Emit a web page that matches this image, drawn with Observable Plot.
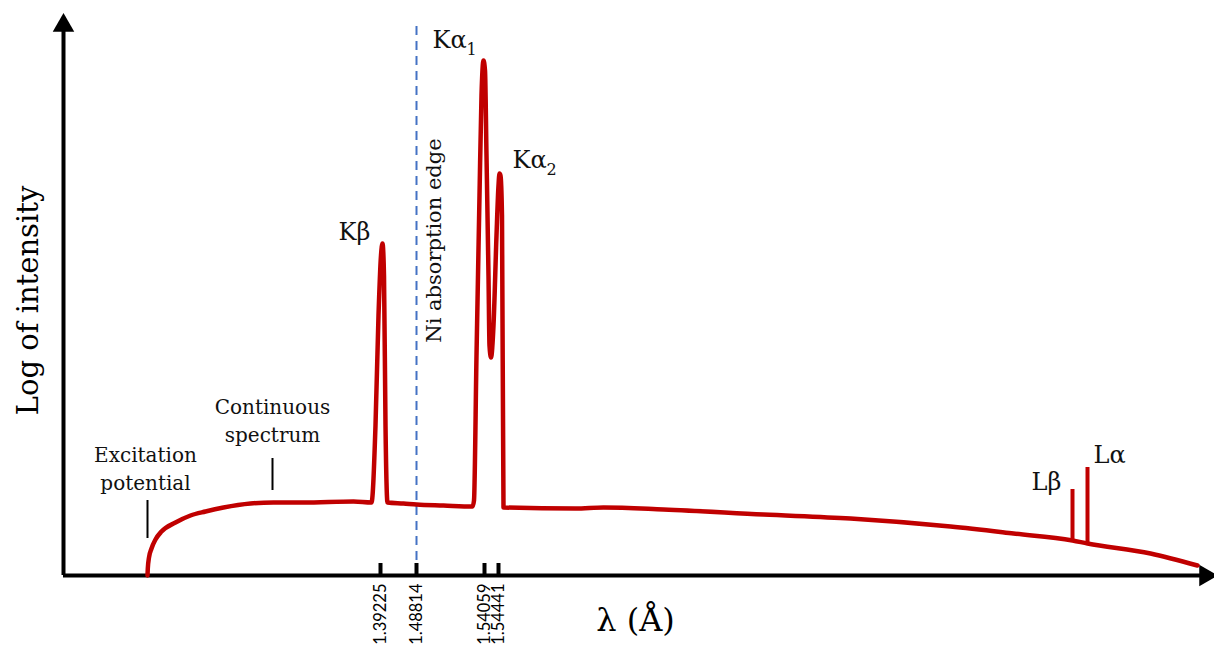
<!DOCTYPE html>
<html>
<head>
<meta charset="utf-8">
<script src="https://cdn.jsdelivr.net/npm/d3@7"></script>
<script src="https://cdn.jsdelivr.net/npm/@observablehq/plot@0.6"></script>
<style>
  html, body { margin: 0; padding: 0; background: #fff; }
  #chart svg { display: block; }
</style>
</head>
<body>
<div id="chart"></div>
<script>
// Schematic x position (arbitrary units) and relative log intensity of the spectrum curve
const curveX = [84, 84.3, 85.5, 88, 92, 98, 112, 127, 142, 160, 187, 210, 240, 290, 308,
  312, 315, 317.5, 319, 320.5, 322, 324, 340, 353, 380, 409,
  410.5, 413, 416, 418, 420, 421.5, 423, 425, 426, 427.5, 430, 433, 435, 436, 437, 438.5, 440,
  512, 540, 600, 700, 787, 887, 950, 1009, 1024, 1087, 1134];
const curveY = [0, 7, 18, 27, 36, 44, 53, 60, 64, 68, 72, 73, 73, 74, 73,
  150, 260, 320, 332, 300, 150, 73, 72, 71, 70, 69,
  75, 220, 380, 480, 515, 505, 420, 300, 230, 218, 250, 340, 390, 402, 400, 360, 68,
  67, 68, 66, 61, 57, 49, 42, 35, 32, 22, 10];

// L lines (vertical spikes on the continuum)
const lineX = [1009, 1024];
const lineBase = [35, 32];
const lineTop = [86, 108];

// Characteristic wavelengths shown as ticks (Å)
const tickLabels = ["1.39225", "1.48814", "1.54059", "1.54441"];
const tickX = [317, 353, 421, 435];
const absorptionEdgeX = 353;

// Annotations
const peakNames = ["Kβ", "Kα", "Kα", "Lβ", "Lα"];
const peakSubs = ["", "1", "2", "", ""];
const peakLabelX = [275, 369, 449, 968, 1030];
const peakLabelY = [343, 535, 415, 93, 120];

const noteLines = ["Excitation", "potential", "Continuous", "spectrum"];
const noteX = [82, 82, 209, 209];
const noteY = [120, 92, 168, 140];
const pointerX = [84, 209];
const pointerY1 = [37, 85];
const pointerY2 = [75, 117];

const serif = "DejaVu Serif";
const red = "#c00000";

const chart = Plot.plot({
  width: 1214,
  height: 646,
  marginLeft: 63,
  marginRight: 1,
  marginTop: 15,
  marginBottom: 71,
  x: {domain: [0, 1150], axis: null},
  y: {domain: [0, 560], axis: null},
  style: {fontFamily: serif, background: "#fff", overflow: "visible"},
  marks: [
    // absorption edge
    Plot.ruleX([absorptionEdgeX], {y1: 0, y2: 555, stroke: "#4472c4", strokeWidth: 2, strokeDasharray: "9,6"}),
    Plot.text(["Ni absorption edge"], {x: absorptionEdgeX, y: 335, dx: 18, rotate: -90, fontSize: 21, fill: "#111", fontFamily: serif}),
    // axes
    Plot.ruleY([0], {x1: 0, x2: 1140, stroke: "black", strokeWidth: 4}),
    Plot.ruleX([0], {y1: 0, y2: 545, stroke: "black", strokeWidth: 4}),
    Plot.dot([{x: 0, y: 550}], {x: "x", y: "y", symbol: "triangle", r: 8, fill: "black", stroke: null}),
    Plot.dot([{x: 1142, y: 0}], {x: "x", y: "y", symbol: "triangle", r: 8, fill: "black", stroke: null, rotate: 90}),
    // ticks
    Plot.ruleX(tickX, {y1: 0, y2: 12, stroke: "black", strokeWidth: 4}),
    Plot.text(tickLabels, {x: (d, i) => tickX[i], y: 0, dy: 8, rotate: -90, textAnchor: "end", fontSize: 16.5, fontFamily: "Lato", fill: "black"}),
    // spectrum
    Plot.line(curveX.map((x, i) => ({x, y: curveY[i]})), {x: "x", y: "y", curve: "monotone-x", stroke: red, strokeWidth: 4.5, strokeLinejoin: "round", strokeLinecap: "round"}),
    Plot.ruleX(lineX.map((x, i) => ({x, y1: lineBase[i], y2: lineTop[i]})), {x: "x", y1: "y1", y2: "y2", stroke: red, strokeWidth: 4}),
    // peak labels
    Plot.text(peakNames, {x: (d, i) => peakLabelX[i], y: (d, i) => peakLabelY[i], textAnchor: "start", fontSize: 24, fill: "#111", fontFamily: serif}),
    Plot.text(peakSubs, {x: (d, i) => peakLabelX[i], y: (d, i) => peakLabelY[i], dx: 34, dy: 9, textAnchor: "start", fontSize: 16, fill: "#111", fontFamily: serif}),
    // notes
    Plot.text(noteLines, {x: (d, i) => noteX[i], y: (d, i) => noteY[i], fontSize: 20, fill: "#111", fontFamily: serif}),
    Plot.ruleX(pointerX.map((x, i) => ({x, y1: pointerY1[i], y2: pointerY2[i]})), {x: "x", y1: "y1", y2: "y2", stroke: "black", strokeWidth: 2}),
    // axis titles
    Plot.text(["Log of intensity"], {x: 0, y: 275, dx: -35, rotate: -90, fontSize: 29, fill: "black", fontFamily: serif}),
    Plot.text(["λ (Å)"], {x: 572, y: -45, fontSize: 32, fill: "black", fontFamily: serif})
  ]
});
document.getElementById("chart").append(chart);
</script>
</body>
</html>
